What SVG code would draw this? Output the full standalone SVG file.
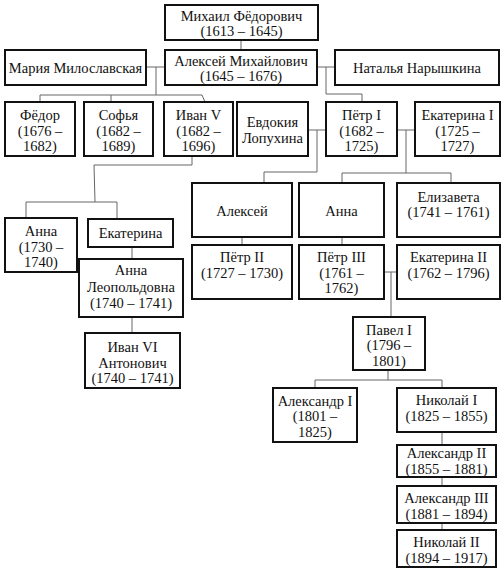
<svg xmlns="http://www.w3.org/2000/svg" width="504" height="571" viewBox="0 0 504 571">
<style>
rect{fill:#fff;stroke:#111;stroke-width:2}
text{font-family:"Liberation Serif","Times New Roman",serif;font-size:14.5px;fill:#111;text-anchor:middle}
#connectors path{fill:none;stroke:#666;stroke-width:1}
</style>
<rect x="0" y="0" width="504" height="571" style="stroke:none"/>
<g id="connectors">
<path d="M241,40V50"/>
<path d="M146,67H165M156,67V95M40,95H202L205,102M40,95V102M111,95V102"/>
<path d="M317,67H335M326,67V94H362V102"/>
<path d="M308,130H326M317,130V172H264V183"/>
<path d="M397,130H415M406,130V173M342,173H451M342,173V183M451,173V183"/>
<path d="M242,237V245M342,237V245"/>
<path d="M384,272H397M391,272V317"/>
<path d="M388,370V380M315,380H442M315,380V388M442,380V388"/>
<path d="M442,432V445M442,477V486M442,523V530"/>
<path d="M192,156V165H94L95,202M26,202H117M26,202V218M117,202V219"/>
<path d="M132,247V259M132,317V333"/>
</g>
<g id="mikhail"><rect x="165" y="5" width="153" height="35"/><text x="241.5" y="20.5">Михаил Фёдорович</text><text x="241.5" y="36">(1613 – 1645)</text></g>
<g id="aleksey-m"><rect x="165" y="50" width="152" height="35"/><text x="241" y="65.5">Алексей Михайлович</text><text x="241" y="81">(1645 – 1676)</text></g>
<g id="maria"><rect x="5" y="50" width="141" height="35"/><text x="75.5" y="72.5">Мария Милославская</text></g>
<g id="natalya"><rect x="335" y="50" width="164" height="35"/><text x="417" y="72.5">Наталья Нарышкина</text></g>
<g id="fedor"><rect x="5" y="102" width="70" height="54"/><text x="40" y="120">Фёдор</text><text x="40" y="135.5">(1676 –</text><text x="40" y="151">1682)</text></g>
<g id="sofya"><rect x="84" y="102" width="69" height="54"/><text x="118.5" y="120">Софья</text><text x="118.5" y="135.5">(1682 –</text><text x="118.5" y="151">1689)</text></g>
<g id="ivan5"><rect x="164" y="102" width="69" height="54"/><text x="198.5" y="120">Иван V</text><text x="198.5" y="135.5">(1682 –</text><text x="198.5" y="151">1696)</text></g>
<g id="evdokia"><rect x="237" y="102" width="71" height="54"/><text x="272.5" y="127">Евдокия</text><text x="272.5" y="143">Лопухина</text></g>
<g id="petr1"><rect x="326" y="102" width="71" height="54"/><text x="361.5" y="120">Пётр I</text><text x="361.5" y="135.5">(1682 –</text><text x="361.5" y="151">1725)</text></g>
<g id="ekaterina1"><rect x="415" y="102" width="85" height="54"/><text x="457.5" y="120">Екатерина I</text><text x="457.5" y="135.5">(1725 –</text><text x="457.5" y="151">1727)</text></g>
<g id="aleksey"><rect x="192" y="183" width="100" height="54"/><text x="242" y="216">Алексей</text></g>
<g id="anna-p"><rect x="299" y="183" width="85" height="54"/><text x="341.5" y="216">Анна</text></g>
<g id="elizaveta"><rect x="397" y="183" width="103" height="54"/><text x="448.5" y="201.5">Елизавета</text><text x="448.5" y="217">(1741 – 1761)</text></g>
<g id="petr2"><rect x="192" y="245" width="100" height="54"/><text x="242" y="262">Пётр II</text><text x="242" y="277.5">(1727 – 1730)</text></g>
<g id="petr3"><rect x="299" y="245" width="85" height="54"/><text x="341.5" y="262">Пётр III</text><text x="341.5" y="277.5">(1761 –</text><text x="341.5" y="293">1762)</text></g>
<g id="ekaterina2"><rect x="397" y="245" width="103" height="54"/><text x="448.5" y="262">Екатерина II</text><text x="448.5" y="277.5">(1762 – 1796)</text></g>
<g id="pavel1"><rect x="353" y="317" width="72" height="53"/><text x="389" y="334.5">Павел I</text><text x="389" y="350">(1796 –</text><text x="389" y="365.5">1801)</text></g>
<g id="aleksandr1"><rect x="273" y="388" width="84" height="54"/><text x="315" y="405.5">Александр I</text><text x="315" y="421">(1801 –</text><text x="315" y="436.5">1825)</text></g>
<g id="nikolay1"><rect x="397" y="388" width="99" height="44"/><text x="446.5" y="405">Николай I</text><text x="446.5" y="421">(1825 – 1855)</text></g>
<g id="aleksandr2"><rect x="397" y="445" width="99" height="32"/><text x="446.5" y="458">Александр II</text><text x="446.5" y="474">(1855 – 1881)</text></g>
<g id="aleksandr3"><rect x="397" y="486" width="99" height="37"/><text x="446.5" y="503">Александр III</text><text x="446.5" y="518.5">(1881 – 1894)</text></g>
<g id="nikolay2"><rect x="397" y="530" width="99" height="37"/><text x="446.5" y="547">Николай II</text><text x="446.5" y="562.5">(1894 – 1917)</text></g>
<g id="anna-i"><rect x="5" y="218" width="72" height="54"/><text x="41" y="236">Анна</text><text x="41" y="251.5">(1730 –</text><text x="41" y="267">1740)</text></g>
<g id="ekaterina-i"><rect x="88" y="219" width="85" height="28"/><text x="130.5" y="238">Екатерина</text></g>
<g id="anna-l"><rect x="79" y="259" width="104" height="58"/><text x="131" y="275">Анна</text><text x="131" y="291.5">Леопольдовна</text><text x="131" y="308">(1740 – 1741)</text></g>
<g id="ivan6"><rect x="85" y="333" width="95" height="55"/><text x="132.5" y="352">Иван VI</text><text x="132.5" y="367.5">Антонович</text><text x="132.5" y="383">(1740 – 1741)</text></g>
</svg>
